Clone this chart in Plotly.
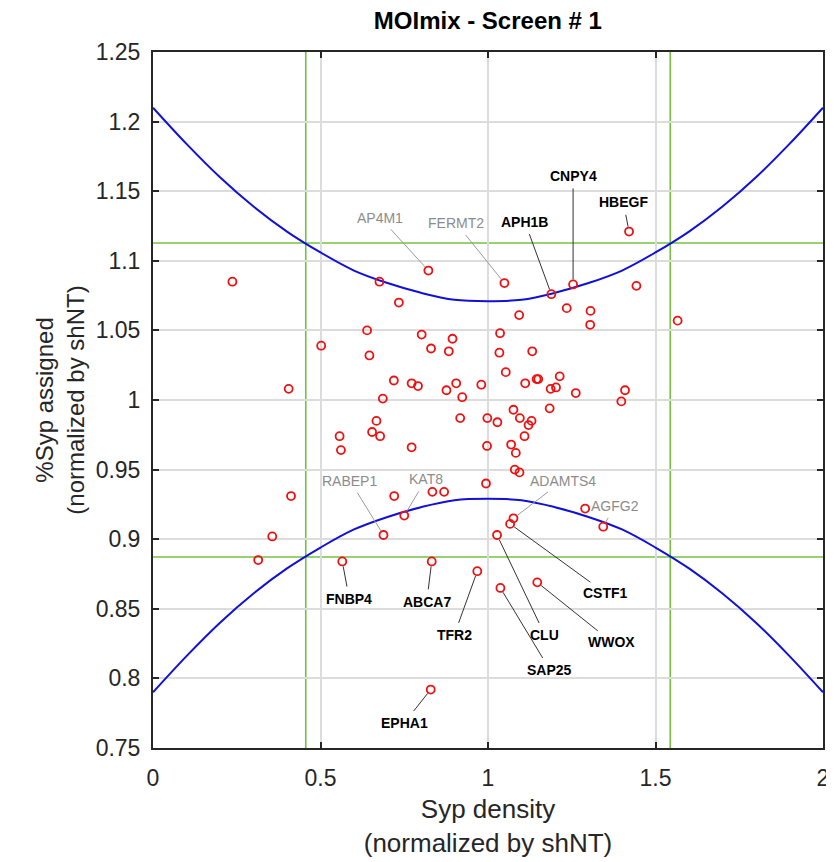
import plotly.graph_objects as go

# ---------------- data ----------------
syp_density = [0.237, 0.676, 0.822, 1.049, 1.254, 1.421, 1.443, 0.734, 0.639, 0.802,
               0.894, 0.502, 0.830, 0.883, 0.646, 0.719, 0.772, 0.791, 0.905, 0.980,
               0.876, 0.405, 0.686, 0.923, 0.917, 0.998, 0.667, 0.557, 0.654, 0.678,
               0.561, 0.772, 0.997, 0.994, 0.412, 0.720, 0.834, 0.869, 0.750, 0.688,
               0.356, 0.314, 0.565, 0.832, 0.968, 0.829, 1.189, 1.235, 1.306, 1.305,
               1.566, 1.093, 1.036, 1.034, 1.132, 1.053, 1.111, 1.145, 1.150, 1.214,
               1.187, 1.203, 1.262, 1.409, 1.398, 1.076, 1.184, 1.095, 1.130, 1.121,
               1.028, 1.109, 1.069, 1.083, 1.080, 1.094, 1.076, 1.066, 1.290, 1.344,
               1.027, 1.037, 1.147]
syp_assigned = [1.085, 1.085, 1.093, 1.084, 1.083, 1.121, 1.082, 1.070, 1.050, 1.047,
                1.044, 1.039, 1.037, 1.035, 1.032, 1.014, 1.012, 1.010, 1.012, 1.011,
                1.007, 1.008, 1.001, 1.002, 0.987, 0.987, 0.985, 0.974, 0.977, 0.974,
                0.964, 0.966, 0.967, 0.940, 0.931, 0.931, 0.934, 0.934, 0.917, 0.903,
                0.902, 0.885, 0.884, 0.884, 0.877, 0.792, 1.076, 1.066, 1.064, 1.054,
                1.057, 1.061, 1.048, 1.034, 1.035, 1.020, 1.012, 1.015, 1.015, 1.017,
                1.008, 1.009, 1.005, 1.007, 0.999, 0.993, 0.994, 0.987, 0.985, 0.982,
                0.984, 0.974, 0.968, 0.962, 0.950, 0.948, 0.915, 0.911, 0.922, 0.909,
                0.903, 0.865, 0.869]
gene = ["", "", "AP4M1", "FERMT2", "CNPY4", "HBEGF", "", "", "", "",
        "", "", "", "", "", "", "", "", "", "",
        "", "", "", "", "", "", "", "", "", "",
        "", "", "", "", "", "", "", "", "KAT8", "RABEP1",
        "", "", "FNBP4", "ABCA7", "TFR2", "EPHA1", "APH1B", "", "", "",
        "", "", "", "", "", "", "", "", "", "",
        "", "", "", "", "", "", "", "", "", "",
        "", "", "", "", "", "", "ADAMTS4", "CSTF1", "", "AGFG2",
        "CLU", "SAP25", "WWOX"]

# threshold curves
curve_x = [0.0, 0.1, 0.2, 0.3, 0.4, 0.5, 0.6, 0.7, 0.8, 0.9, 1.0,
           1.1, 1.2, 1.3, 1.4, 1.5, 1.6, 1.7, 1.8, 1.9, 2.0]
curve_upper = [1.210, 1.184, 1.160, 1.139, 1.121, 1.106, 1.093, 1.084, 1.077, 1.072, 1.071,
               1.072, 1.077, 1.084, 1.093, 1.106, 1.121, 1.139, 1.160, 1.184, 1.210]
curve_lower = [0.790, 0.816, 0.840, 0.861, 0.879, 0.894, 0.907, 0.916, 0.923, 0.928, 0.929,
               0.928, 0.923, 0.916, 0.907, 0.894, 0.879, 0.861, 0.840, 0.816, 0.790]
x_cut = [0.456, 1.544]
y_cut = [0.8872, 1.1128]

x_ticks = [0, 0.5, 1, 1.5, 2]
x_ticklabels = ["0", "0.5", "1", "1.5", "2"]
y_ticks = [0.75, 0.8, 0.85, 0.9, 0.95, 1.0, 1.05, 1.1, 1.15, 1.2, 1.25]
y_ticklabels = ["0.75", "0.8", "0.85", "0.9", "0.95", "1", "1.05", "1.1", "1.15", "1.2", "1.25"]

# label placement (text position in data units) and style
label_pos = {
    "AP4M1": (0.678, 1.131), "FERMT2": (0.905, 1.127), "APH1B": (1.110, 1.128),
    "CNPY4": (1.254, 1.161), "HBEGF": (1.404, 1.142), "RABEP1": (0.588, 0.942),
    "KAT8": (0.815, 0.943), "ADAMTS4": (1.223, 0.942), "AGFG2": (1.379, 0.924),
    "FNBP4": (0.586, 0.857), "ABCA7": (0.817, 0.855), "TFR2": (0.899, 0.831),
    "EPHA1": (0.750, 0.768), "CSTF1": (1.352, 0.861), "CLU": (1.170, 0.831),
    "SAP25": (1.185, 0.806), "WWOX": (1.370, 0.826),
}
grey_labels = ["AP4M1", "FERMT2", "RABEP1", "KAT8", "ADAMTS4", "AGFG2"]

# ---------------- figure ----------------
FONT = "Liberation Sans, Arial, sans-serif"
fig = go.Figure()

# green cut-off lines
for xv in x_cut:
    fig.add_shape(type="line", x0=xv, x1=xv, y0=0.75, y1=1.25, xref="x", yref="y",
                  line=dict(color="#76c043", width=1.6), layer="below")
for yv in y_cut:
    fig.add_shape(type="line", x0=0, x1=2, y0=yv, y1=yv, xref="x", yref="y",
                  line=dict(color="#76c043", width=1.6), layer="below")
# black centre lines
fig.add_shape(type="line", x0=1, x1=1, y0=0.75, y1=1.25, xref="x", yref="y",
              line=dict(color="black", width=1.6), layer="below")
fig.add_shape(type="line", x0=0, x1=2, y0=1, y1=1, xref="x", yref="y",
              line=dict(color="black", width=1.6), layer="below")

fig.add_trace(go.Scatter(x=curve_x, y=curve_upper, mode="lines", line_shape="spline",
                         line=dict(color="#1010d8", width=2), hoverinfo="skip", showlegend=False))
fig.add_trace(go.Scatter(x=curve_x, y=curve_lower, mode="lines", line_shape="spline",
                         line=dict(color="#1010d8", width=2), hoverinfo="skip", showlegend=False))

fig.add_trace(go.Scatter(x=syp_density, y=syp_assigned, mode="markers",
                         marker=dict(symbol="circle-open", size=8, color="#ee1111",
                                     line=dict(width=1.8, color="#ee1111")),
                         showlegend=False))

for g, px, py in zip(gene, syp_density, syp_assigned):
    if not g:
        continue
    tx, ty = label_pos[g]
    grey = g in grey_labels
    col = "#8c8c8c" if grey else "black"
    fig.add_annotation(
        x=px, y=py, ax=tx, ay=ty, axref="x", ayref="y", xref="x", yref="y",
        text=("<b>%s</b>" % g) if not grey else g,
        showarrow=True, arrowhead=0, arrowwidth=1, arrowcolor="#9a9a9a" if grey else "#333333",
        standoff=5, startstandoff=3,
        font=dict(family=FONT, size=14, color=col),
    )

axis_common = dict(
    showline=True, linecolor="#262626", linewidth=2, mirror="ticks",
    ticks="inside", ticklen=6, tickwidth=1.5, tickcolor="#262626",
    showgrid=True, gridcolor="#dcdcdc", gridwidth=2, zeroline=False,
    tickfont=dict(family=FONT, size=23, color="#262626"),
    automargin=False,
)

fig.update_xaxes(range=[0, 2], tickvals=x_ticks, ticktext=x_ticklabels, ticklabelstandoff=8,
                 title=dict(text="Syp density<br>(normalized by shNT)",
                            font=dict(family=FONT, size=26, color="#262626"), standoff=10),
                 **axis_common)
fig.update_yaxes(range=[0.75, 1.25], tickvals=y_ticks, ticktext=y_ticklabels, ticklabelstandoff=6,
                 title=dict(text="%Syp assigned<br>(normalized by shNT)",
                            font=dict(family=FONT, size=24, color="#262626"), standoff=4),
                 **axis_common)

# page body adds an 8px offset, so the figure is 8px smaller than the window
fig.update_layout(
    width=826, height=854,
    margin=dict(l=145, r=11, t=44, b=114),
    paper_bgcolor="white", plot_bgcolor="white",
    title=dict(text="<b>MOImix - Screen # 1</b>", x=0.581, xanchor="center", y=0.995, yanchor="top",
               font=dict(family=FONT, size=24, color="black")),
)

fig.write_html("out.html")
